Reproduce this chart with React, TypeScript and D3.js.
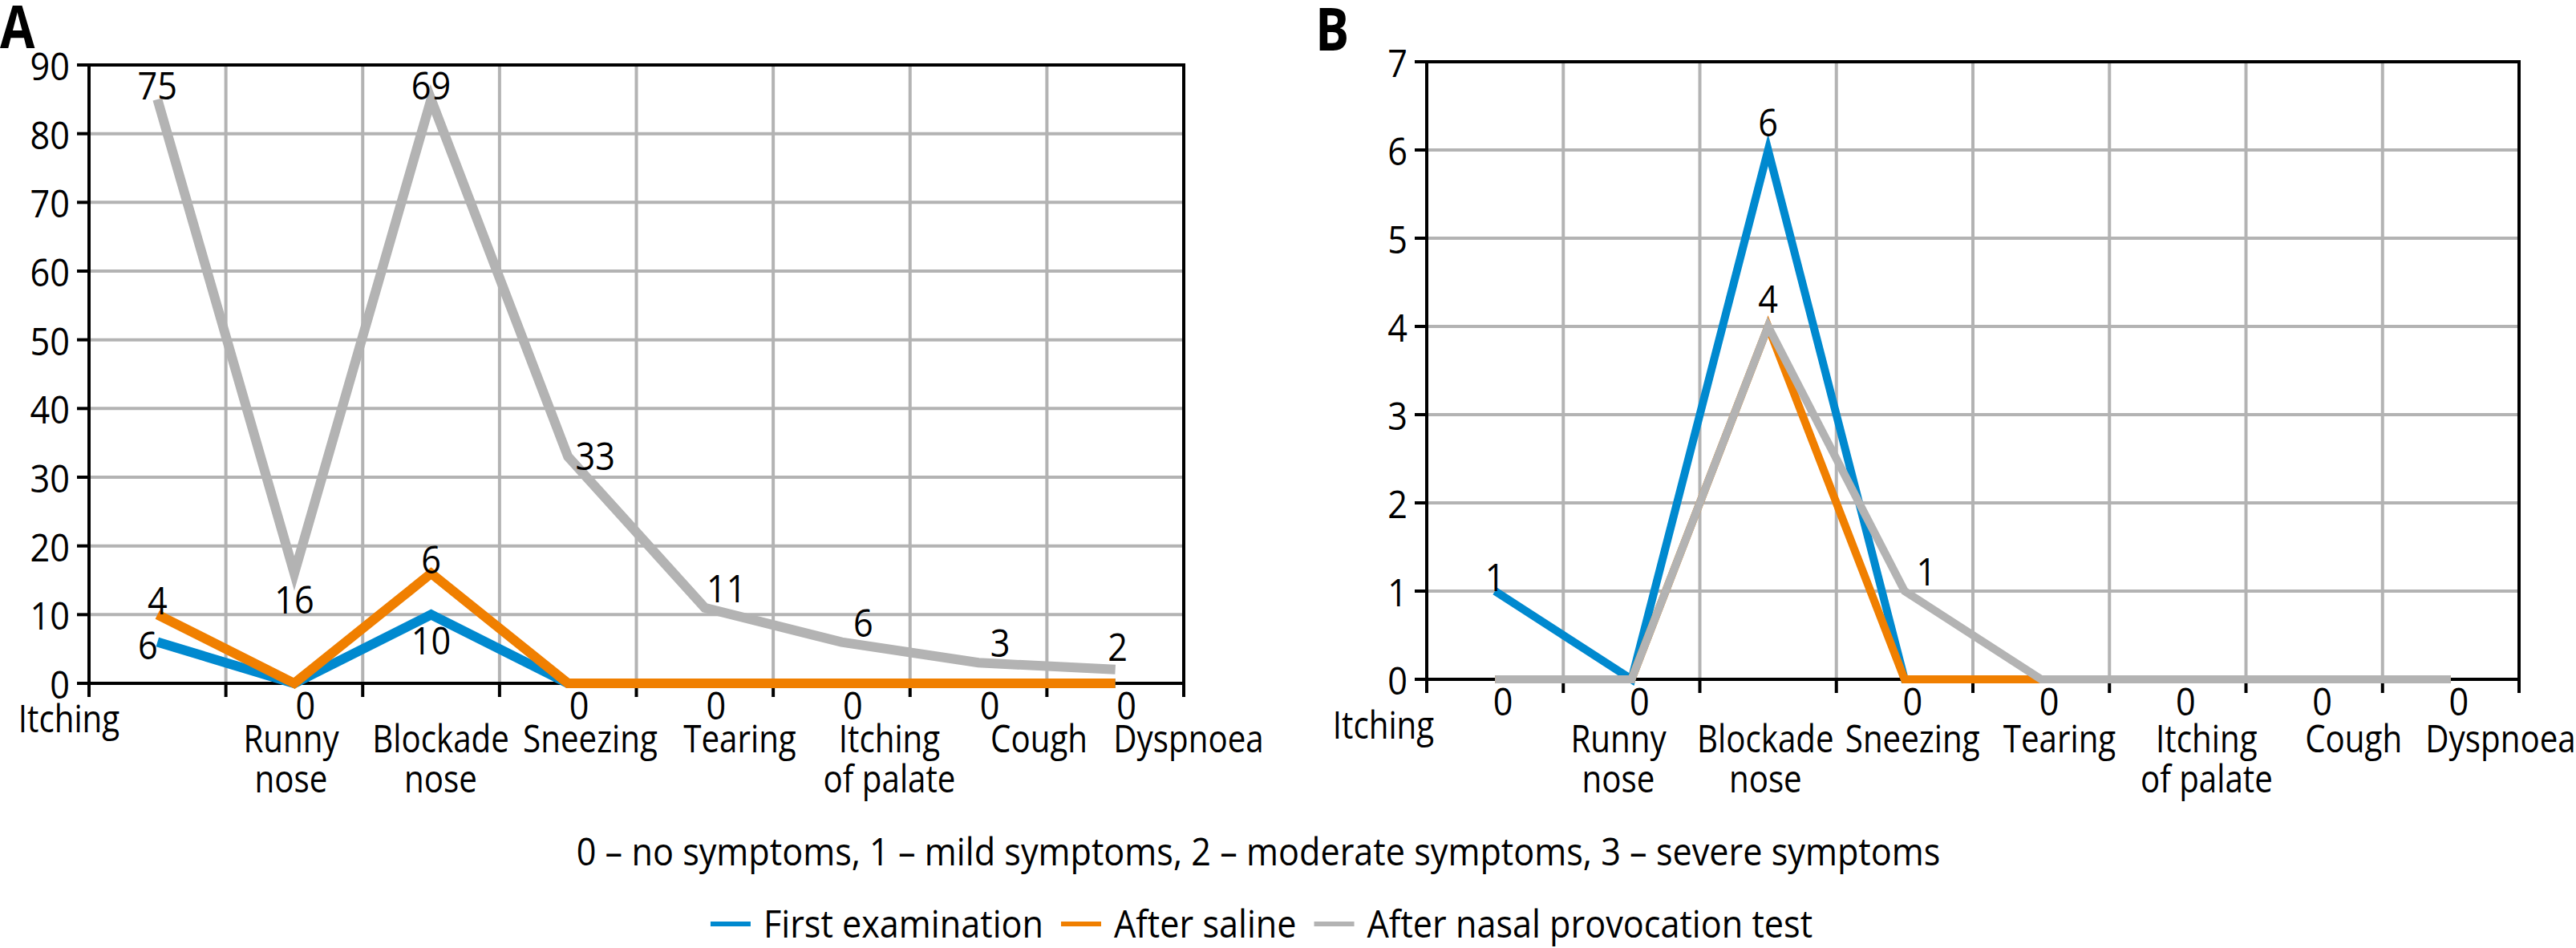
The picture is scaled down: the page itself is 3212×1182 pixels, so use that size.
import React, { useEffect, useRef } from "react";
import * as d3 from "d3";

// ---------- data ----------
const categories = [
  "Itching",
  "Runny nose",
  "Blockade nose",
  "Sneezing",
  "Tearing",
  "Itching of palate",
  "Cough",
  "Dyspnoea",
];
const categoryLines = [
  ["Itching"],
  ["Runny", "nose"],
  ["Blockade", "nose"],
  ["Sneezing"],
  ["Tearing"],
  ["Itching", "of palate"],
  ["Cough"],
  ["Dyspnoea"],
];

const seriesNames = ["First examination", "After saline", "After nasal provocation test"];
const seriesColors = ["#0089cf", "#f07f00", "#b3b3b3"];

const footnote =
  "0 \u2013 no symptoms, 1 \u2013 mild symptoms, 2 \u2013 moderate symptoms, 3 \u2013 severe symptoms";

// Panel A
const aTicks = [0, 10, 20, 30, 40, 50, 60, 70, 80, 90];
const aFirst = [6, 0, 10, 0, 0, 0, 0, 0];
const aSaline = [10, 0, 16, 0, 0, 0, 0, 0];
const aProvocation = [85, 16, 85, 33, 11, 6, 3, 2];
const aFirstLabels = ["6", "", "10", "", "", "", "", ""];
const aSalineLabels = ["4", "", "6", "", "", "", "", ""];
const aProvocationLabels = ["75", "16", "69", "33", "11", "6", "3", "2"];
const aFirstPlace = ["l", "", "b", "", "", "", "", ""];
const aSalinePlace = ["t", "", "t", "", "", "", "", ""];
const aProvocationPlace = ["t", "b", "t", "r", "tr", "tr", "tr", "tu"];
const aZeroLabels = ["", "0", "", "0", "0", "0", "0", "0"];

// Panel B
const bTicks = [0, 1, 2, 3, 4, 5, 6, 7];
const bFirst = [1, 0, 6, 0, 0, 0, 0, 0];
const bSaline = [0, 0, 4, 0, 0, 0, 0, 0];
const bProvocation = [0, 0, 4, 1, 0, 0, 0, 0];
const bFirstLabels = ["1", "", "6", "", "", "", "", ""];
const bSalineLabels = ["", "", "", "", "", "", "", ""];
const bProvocationLabels = ["", "", "4", "1", "", "", "", ""];
const bFirstPlace = ["t", "", "tt", "", "", "", "", ""];
const bSalinePlace = ["", "", "", "", "", "", "", ""];
const bProvocationPlace = ["", "", "tt", "tr", "", "", "", ""];
const bZeroLabels = ["0", "0", "", "0", "0", "0", "0", "0"];

// ---------- layout ----------
const W = 3212;
const H = 1182;
const FONT = "'Open Sans', 'Noto Sans', sans-serif";
const FS = 48;
const SX = 0.9; // horizontal condensing of the text
const SX_CAT = 0.84; // category labels are a little narrower

const placeOffsets: Record<string, [number, number]> = {
  t: [0, -19],
  tt: [0, -36],
  tu: [3, -30],
  b: [0, 31],
  l: [-12, 2],
  r: [34, -2],
  tr: [27, -26],
};

type Sel = d3.Selection<any, unknown, null, undefined>;

function addText(parent: Sel, x: number, y: number, str: string, anchor = "middle", sx = SX) {
  return parent
    .append("text")
    .attr("transform", `translate(${x},${y}) scale(${sx},1)`)
    .attr("x", 0)
    .attr("y", 0)
    .attr("text-anchor", anchor)
    .attr("dominant-baseline", "central")
    .attr("font-family", FONT)
    .attr("font-size", FS)
    .attr("fill", "#000")
    .text(str);
}

type PanelCfg = {
  title: string;
  titleX: number;
  titleY: number;
  left: number;
  right: number;
  top: number;
  bottom: number;
  ticks: number[];
  series: number[][];
  labels: string[][];
  places: string[][];
  zeros: string[];
  zeroDx: number;
  firstLabelX: number;
  firstLabelY: number;
  labelStart: number;
  labelEnd: number;
  labelY: number;
  lineWidth: number;
};

function drawPanel(svg: Sel, c: PanelCfg) {
  const g = svg.append("g");
  const x = d3.scaleBand<string>().domain(categories).range([c.left, c.right]).padding(0);
  const bw = x.bandwidth();
  const cx = (i: number) => (x(categories[i]) as number) + bw / 2;
  const yMax = d3.max(c.ticks) as number;
  const y = d3.scaleLinear().domain([0, yMax]).range([c.bottom, c.top]);
  const tickLen = 15;
  const gridColor = "#b3b3b3";
  const black = "#000";
  const axW = 4;

  // horizontal gridlines
  g.selectAll("line.hg")
    .data(c.ticks.filter((t) => t !== 0 && t !== yMax))
    .enter()
    .append("line")
    .attr("x1", c.left)
    .attr("x2", c.right)
    .attr("y1", (d) => y(d))
    .attr("y2", (d) => y(d))
    .attr("stroke", gridColor)
    .attr("stroke-width", 4);

  // vertical gridlines at band boundaries
  const bounds = categories.map((cat) => x(cat) as number).slice(1);
  g.selectAll("line.vg")
    .data(bounds)
    .enter()
    .append("line")
    .attr("x1", (d) => d)
    .attr("x2", (d) => d)
    .attr("y1", c.top)
    .attr("y2", c.bottom)
    .attr("stroke", gridColor)
    .attr("stroke-width", 4);

  // frame
  g.append("line")
    .attr("x1", c.left - tickLen)
    .attr("x2", c.right + axW / 2)
    .attr("y1", y(yMax))
    .attr("y2", y(yMax))
    .attr("stroke", black)
    .attr("stroke-width", axW);
  g.append("line")
    .attr("x1", c.left - tickLen)
    .attr("x2", c.right)
    .attr("y1", c.bottom)
    .attr("y2", c.bottom)
    .attr("stroke", black)
    .attr("stroke-width", axW);
  [c.left, c.right].forEach((xx) => {
    g.append("line")
      .attr("x1", xx)
      .attr("x2", xx)
      .attr("y1", c.top)
      .attr("y2", c.bottom + tickLen + 2)
      .attr("stroke", black)
      .attr("stroke-width", axW);
  });
  // x ticks
  g.selectAll("line.xt")
    .data(bounds)
    .enter()
    .append("line")
    .attr("x1", (d) => d)
    .attr("x2", (d) => d)
    .attr("y1", c.bottom)
    .attr("y2", c.bottom + tickLen + 2)
    .attr("stroke", black)
    .attr("stroke-width", axW);
  // y ticks + labels
  g.selectAll("line.yt")
    .data(c.ticks)
    .enter()
    .append("line")
    .attr("x1", c.left - tickLen)
    .attr("x2", c.left)
    .attr("y1", (d) => y(d))
    .attr("y2", (d) => y(d))
    .attr("stroke", black)
    .attr("stroke-width", axW);
  c.ticks.forEach((t) => addText(g, c.left - 24, y(t), String(t), "end"));

  // series lines (blue, orange, gray on top)
  const line = d3
    .line<number>()
    .x((_, i) => cx(i))
    .y((d) => y(d));
  c.series.forEach((vals, si) => {
    g.append("path")
      .attr("d", line(vals) as string)
      .attr("fill", "none")
      .attr("stroke", seriesColors[si])
      .attr("stroke-width", c.lineWidth)
      .attr("stroke-linejoin", "miter")
      .attr("stroke-miterlimit", 20)
      .attr("stroke-linecap", "butt");
  });

  // data labels
  c.series.forEach((vals, si) => {
    vals.forEach((v, i) => {
      const lab = c.labels[si][i];
      if (!lab) return;
      const off = placeOffsets[c.places[si][i]] || [0, -20];
      addText(g, cx(i) + off[0], y(v) + off[1], lab);
    });
  });
  // zero labels under axis
  c.zeros.forEach((lab, i) => {
    if (!lab) return;
    addText(g, cx(i) + c.zeroDx, c.bottom + 26, lab);
  });

  // category labels
  const labX = d3
    .scaleLinear()
    .domain([1, categories.length - 1])
    .range([c.labelStart, c.labelEnd]);
  categoryLines.forEach((lines, i) => {
    const xx = i === 0 ? c.firstLabelX : labX(i);
    const yy = i === 0 ? c.firstLabelY : c.labelY;
    lines.forEach((ln, li) => addText(g, xx, yy + li * 50, ln, "middle", SX_CAT));
  });

  // panel title
  g.append("text")
    .attr("transform", `translate(${c.titleX},${c.titleY}) scale(0.85,1)`)
    .attr("font-family", "'Open Sans', 'Noto Sans', sans-serif")
    .attr("font-weight", "bold")
    .attr("font-size", 74)
    .text(c.title);
}

export default function App() {
  const ref = useRef<SVGSVGElement | null>(null);

  useEffect(() => {
    if (!ref.current) return;
    const svg = d3.select(ref.current) as unknown as Sel;
    svg.selectAll("*").remove();

    drawPanel(svg, {
      title: "A",
      titleX: 0,
      titleY: 60,
      left: 111,
      right: 1476,
      top: 81,
      bottom: 852,
      ticks: aTicks,
      series: [aFirst, aSaline, aProvocation],
      labels: [aFirstLabels, aSalineLabels, aProvocationLabels],
      places: [aFirstPlace, aSalinePlace, aProvocationPlace],
      zeros: aZeroLabels,
      zeroDx: 14,
      firstLabelX: 86,
      firstLabelY: 895,
      labelStart: 363,
      labelEnd: 1482,
      labelY: 920,
      lineWidth: 12,
    });

    drawPanel(svg, {
      title: "B",
      titleX: 1640,
      titleY: 63,
      left: 1779,
      right: 3141,
      top: 77,
      bottom: 847,
      ticks: bTicks,
      series: [bFirst, bSaline, bProvocation],
      labels: [bFirstLabels, bSalineLabels, bProvocationLabels],
      places: [bFirstPlace, bSalinePlace, bProvocationPlace],
      zeros: bZeroLabels,
      zeroDx: 10,
      firstLabelX: 1725,
      firstLabelY: 903,
      labelStart: 2018,
      labelEnd: 3118,
      labelY: 920,
      lineWidth: 10,
    });

    // footnote
    addText(svg, 1569, 1060, footnote);

    // legend, laid out from measured text widths, centred
    const lg = svg.append("g");
    const swatch = 50;
    const gapSw = 16;
    const gapItem = 22;
    const legY = 1150;
    const widths = seriesNames.map((name) => {
      const t = addText(lg, 0, legY, name, "start");
      const w = (t.node() as SVGTextElement).getComputedTextLength() * SX;
      t.remove();
      return w;
    });
    const total =
      widths.reduce((a, w) => a + swatch + gapSw + w + gapItem, 0) - gapItem;
    let cursor = 1573 - total / 2;
    seriesNames.forEach((name, i) => {
      lg.append("line")
        .attr("x1", cursor)
        .attr("x2", cursor + swatch)
        .attr("y1", legY + 2)
        .attr("y2", legY + 2)
        .attr("stroke", seriesColors[i])
        .attr("stroke-width", 6);
      addText(lg, cursor + swatch + gapSw, legY, name, "start");
      cursor += swatch + gapSw + widths[i] + gapItem;
    });
  }, []);

  return (
    <svg
      ref={ref}
      width={W}
      height={H}
      viewBox={`0 0 ${W} ${H}`}
      style={{ position: "absolute", left: 0, top: 0, background: "#fff", display: "block" }}
    />
  );
}
